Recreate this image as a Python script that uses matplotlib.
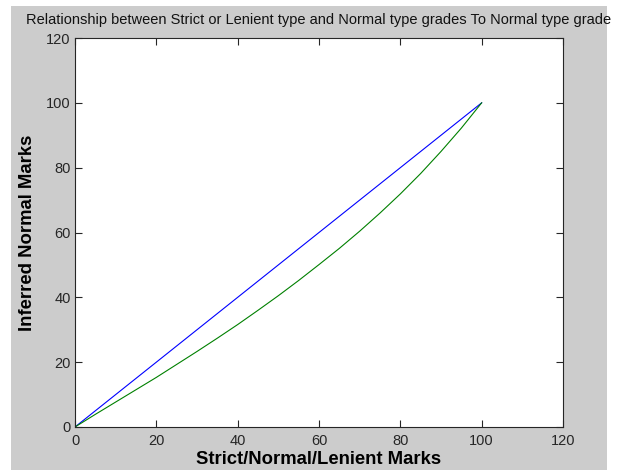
import matplotlib
matplotlib.use("Agg")
import matplotlib.pyplot as plt
from matplotlib.patches import Rectangle

plt.rcParams['font.family'] = ['Liberation Sans', 'DejaVu Sans']

marks = [0, 5, 10, 15, 20, 25, 30, 35, 40, 45, 50, 55, 60, 65, 70, 75, 80, 85, 90, 95, 100]
normal_inferred = [0, 5, 10, 15, 20, 25, 30, 35, 40, 45, 50, 55, 60, 65, 70, 75, 80, 85, 90, 95, 100]
strict_inferred = [0, 3.9, 7.7, 11.5, 15.3, 19.3, 23.3, 27.4, 31.6, 36.0, 40.5, 45.2, 50.1,
                   55.1, 60.4, 66.0, 71.9, 78.2, 85.0, 92.2, 100]

xticks = [0, 20, 40, 60, 80, 100, 120]
yticks = [0, 20, 40, 60, 80, 100, 120]

W, H = 617, 474
fig = plt.figure(figsize=(W / 100, H / 100), dpi=100, facecolor='white')
fig.patches.append(Rectangle((11 / W, 4 / H), (607 - 11) / W, (468 - 4) / H,
                             transform=fig.transFigure, facecolor='#cccccc',
                             edgecolor='none', zorder=-10))

ax = fig.add_axes([75 / W, (H - 427) / H, (563 - 75) / W, (427 - 38) / H])
ax.set_facecolor('white')
ax.plot(marks, normal_inferred, color='#0000ff', lw=0.8)
ax.plot(marks, strict_inferred, color='#008000', lw=0.8)

ax.set_xlim(0, 120)
ax.set_ylim(0, 120)
ax.set_xticks(xticks)
ax.set_yticks(yticks)
ax.tick_params(direction='in', length=5, width=0.8, top=True, right=True,
               labelsize=10.5, colors='#262626')
ax.tick_params(axis='x', pad=5)
ax.tick_params(axis='y', pad=3)
for s in ax.spines.values():
    s.set_linewidth(0.8)
    s.set_color('#262626')

ax.set_xlabel('Strict/Normal/Lenient Marks', fontsize=13.3, fontweight='bold', labelpad=2)
ax.set_ylabel('Inferred Normal Marks', fontsize=13.3, fontweight='bold', labelpad=7)
fig.text(319 / W, (H - 20) / H, 'Relationship between Strict or Lenient type and Normal type grades To Normal type grade',
         ha='center', va='center', fontsize=10.5, color='#111111')

fig.savefig('out.png', dpi=100, facecolor='white')
